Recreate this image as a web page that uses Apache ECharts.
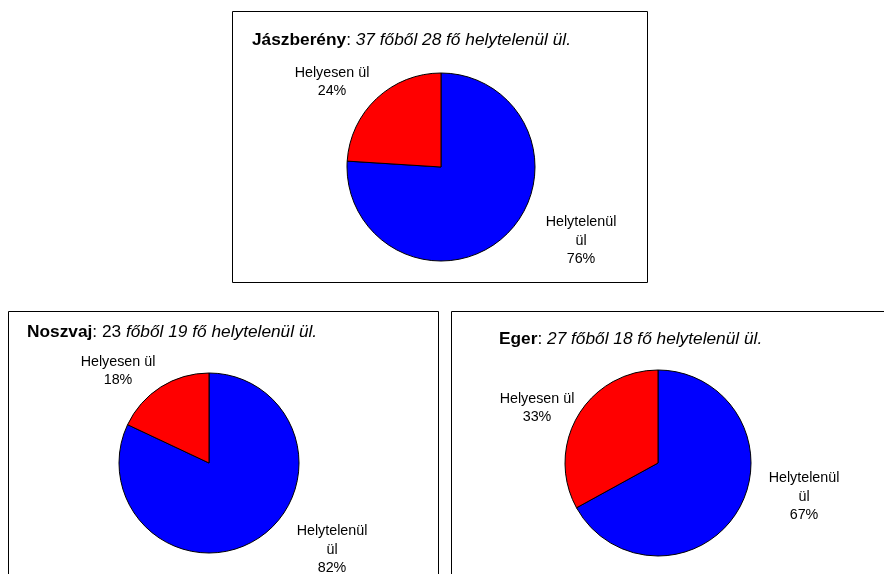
<!DOCTYPE html>
<html>
<head>
<meta charset="utf-8">
<style>
  html, body { margin: 0; padding: 0; background: #fff; }
  #chart { width: 884px; height: 574px; }
</style>
<script src="https://cdn.jsdelivr.net/npm/echarts@6/dist/echarts.min.js"></script>
</head>
<body>
<div id="chart"></div>
<script>
// Seating survey: share of pupils sitting incorrectly, per town
const towns = ['Jászberény', 'Noszvaj', 'Eger'];
const categories = ['Helytelenül ül', 'Helyesen ül'];
const jaszbereny = [76, 24];
const noszvaj = [82, 18];
const eger = [67, 33];
const seriesValues = [jaszbereny, noszvaj, eger];
const sliceColors = ['#0000ff', '#ff0000'];

// Title pieces: bold town name, then the count sentence
const titleLead = [': ', ': 23 ', ': '];
const titleTail = ['37 főből 28 fő helytelenül ül.', 'főből 19 fő helytelenül ül.', '27 főből 18 fő helytelenül ül.'];

// Layout of each panel (pixels)
const panels = [
  { box: [232.5, 11.5, 415, 271], center: [441, 167], radius: 94, title: [252, 30],
    labelOffset: [[140, 74], [-109, -85]] },
  { box: [8.5, 311.5, 430, 320], center: [209, 463], radius: 90, title: [27, 322],
    labelOffset: [[123, 87], [-91, -92]] },
  { box: [451.5, 311.5, 500, 320], center: [658, 463], radius: 93, title: [499, 329],
    labelOffset: [[146, 34], [-121, -55]] }
];

const FONT = "'Liberation Sans', Arial, sans-serif";

// Long category names wrap at their last space, like the label boxes do
function wrapName(name) {
  if (name.length <= 12) return name;
  const i = name.lastIndexOf(' ');
  return i > 0 ? name.slice(0, i) + '\n' + name.slice(i + 1) : name;
}

const chart = echarts.init(document.getElementById('chart'), null, { renderer: 'canvas' });

const option = {
  backgroundColor: '#ffffff',
  animation: false,
  title: panels.map((p, i) => ({
    text: '{b|' + towns[i] + '}{n|' + titleLead[i] + '}{i|' + titleTail[i] + '}',
    left: p.title[0],
    top: p.title[1],
    padding: 0,
    textStyle: {
      fontFamily: FONT,
      fontSize: 17.3,
      lineHeight: 20,
      rich: {
        b: { fontFamily: FONT, fontSize: 17.3, fontWeight: 'bold', color: '#000', lineHeight: 20 },
        n: { fontFamily: FONT, fontSize: 17.3, fontWeight: 'normal', color: '#000', lineHeight: 20 },
        i: { fontFamily: FONT, fontSize: 17.3, fontStyle: 'italic', fontWeight: 'normal', color: '#000', lineHeight: 20 }
      }
    }
  })),
  graphic: panels.map(p => ({
    type: 'rect',
    silent: true,
    shape: { x: p.box[0], y: p.box[1], width: p.box[2], height: p.box[3] },
    style: { fill: null, stroke: '#000', lineWidth: 1 }
  })),
  series: panels.map((p, si) => ({
    type: 'pie',
    center: p.center,
    radius: p.radius,
    startAngle: 90,
    clockwise: true,
    avoidLabelOverlap: false,
    silent: true,
    itemStyle: { borderColor: '#000', borderWidth: 1 },
    label: {
      show: true,
      position: 'outside',
      formatter: params => wrapName(params.name) + '\n' + params.value + '%',
      fontFamily: FONT,
      fontSize: 14.3,
      lineHeight: 18.5,
      color: '#000',
      align: 'center'
    },
    labelLine: { show: false },
    labelLayout: function (params) {
      const off = p.labelOffset[params.dataIndex];
      return {
        x: p.center[0] + off[0],
        y: p.center[1] + off[1],
        align: 'center',
        verticalAlign: 'middle'
      };
    },
    data: categories.map((name, k) => ({
      name: name,
      value: seriesValues[si][k],
      itemStyle: { color: sliceColors[k] }
    }))
  }))
};

chart.setOption(option);
</script>
</body>
</html>
